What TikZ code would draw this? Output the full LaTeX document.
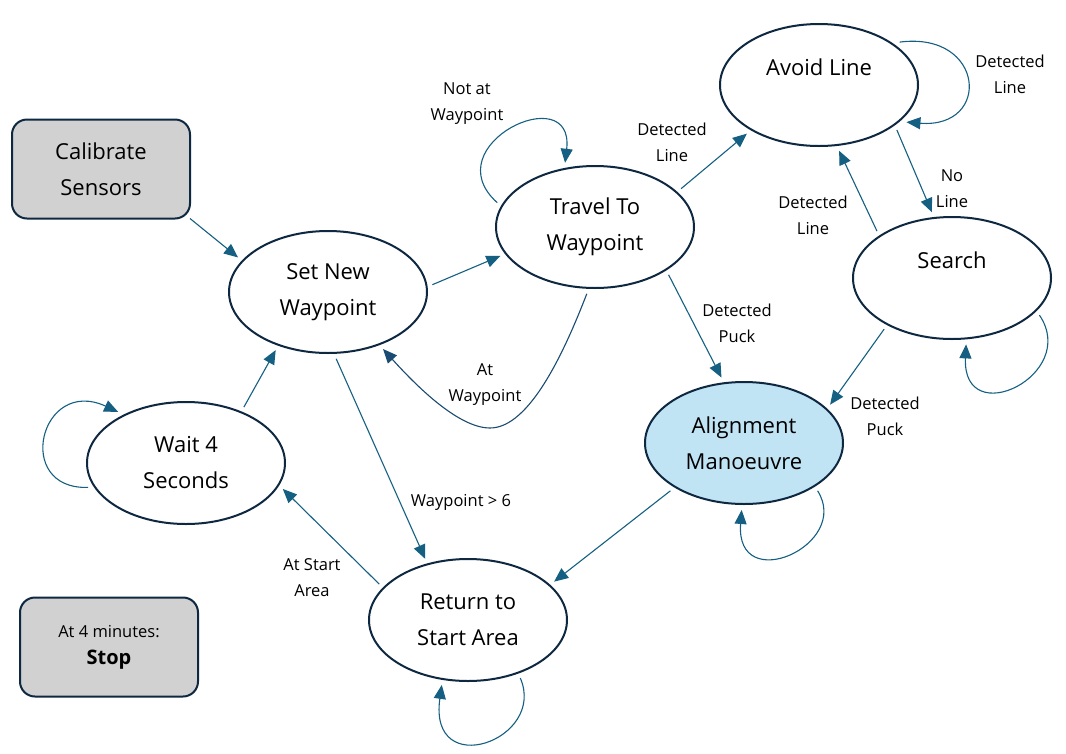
\documentclass[tikz,border=0pt]{standalone}
\usepackage{fontspec}
\setmainfont{Open Sans}
\usetikzlibrary{arrows.meta,shapes.geometric}
\definecolor{navy}{HTML}{0E2841}
\definecolor{acc}{HTML}{156082}
\definecolor{lblue}{HTML}{C1E4F5}
\definecolor{gbox}{HTML}{D1D1D1}
\definecolor{darkarr}{HTML}{1A4B73}
\begin{document}
\begin{tikzpicture}[x=1pt,y=-1pt,
 state/.style={ellipse, draw=navy, line width=2pt, minimum width=198pt, minimum height=122pt, inner sep=0pt, outer sep=6pt, align=center, font=\fontsize{22}{36}\selectfont},
 box/.style={rectangle, rounded corners=15pt, draw=navy, line width=2pt, fill=gbox, minimum width=178pt, minimum height=99pt, align=center, outer sep=0pt},
 arr/.style={draw=acc, line width=1.1pt, -{Triangle[length=14pt,width=12pt]}},
 lbl/.style={font=\fontsize{16.5}{26}\selectfont, align=center, inner sep=0pt},
]
\useasboundingbox (0,0) rectangle (1066,753);
\fill[white] (0,0) rectangle (1066,753);

\node[box, font=\fontsize{22}{36}\selectfont] (calib) at (101,169) {Calibrate\\Sensors};
\node[box, font=\fontsize{16.5}{27}\selectfont] (stop) at (109,647) {At 4 minutes:\\{\fontsize{20}{27}\selectfont\bfseries Stop}};

\node[state] (avoid) at (819,85) {Avoid Line\\\phantom{A}};
\node[state] (travel) at (595,227) {Travel To\\Waypoint};
\node[state] (setnew) at (328,292) {Set New\\Waypoint};
\node[state] (search) at (952,278) {Search\\\phantom{A}};
\node[state, fill=lblue] (align) at (744,443) {Alignment\\Manoeuvre};
\node[state] (wait) at (186,463) {Wait 4\\Seconds};
\node[state] (ret) at (468,620) {Return to\\Start Area};

\draw[arr] (calib.south east) -- (setnew.159);
\draw[arr] (setnew.4) -- (travel.197);
\draw[arr] (travel.24) -- (avoid.214);
\draw[arr] (avoid.28) .. controls (985,31) and (992,129) .. (avoid.-23);
\draw[arr] (avoid.-30) -- (search.107);
\draw[arr] (search.148) -- (avoid.-73);
\draw[arr] (search.-23) .. controls (1080,375) and (962,432) .. (search.-78);
\draw[arr] (search.217) -- (align.24);
\draw[arr] (travel.-33) -- (align.109);
\draw[arr] (align.-33) .. controls (852,545) and (735,597) .. (align.-92);
\draw[arr] (align.213) -- (ret.24);
\draw[arr] (ret.-48) .. controls (547,740) and (428,782) .. (ret.-112);
\draw[arr] (setnew.-83) -- (ret.125);
\draw[arr] (ret.158) -- (wait.-15);
\draw[arr] (wait.44) -- (setnew.228);
\draw[arr] (wait.194) .. controls (13,490) and (40,376) .. (wait.143);
\draw[arr] (travel.166) .. controls (433,145) and (575,78) .. (travel.115);
\draw[arr, draw=darkarr] (travel.-97) .. controls (565,350) and (530,428) .. (490,428) .. controls (460,428) and (420,390) .. (setnew.-46);

\node[lbl] (l1) at (467,104) {Not at\\Waypoint};
\node[lbl] (l2) at (672,142) {Detected\\Line};
\node[lbl] (l3) at (1010,74) {Detected\\Line};
\node[lbl] (l4) at (952,189) {No\\Line};
\node[lbl] (l5) at (813,215) {Detected\\Line};
\node[lbl] (l6) at (737,323) {Detected\\Puck};
\node[lbl] (l7) at (885,416) {Detected\\Puck};
\node[lbl] (l8) at (485,385) {At\\Waypoint};
\node[lbl] (l9) at (461,502) {Waypoint > 6};
\node[lbl] (l10) at (312,578) {At Start\\Area};
\end{tikzpicture}
\end{document}
